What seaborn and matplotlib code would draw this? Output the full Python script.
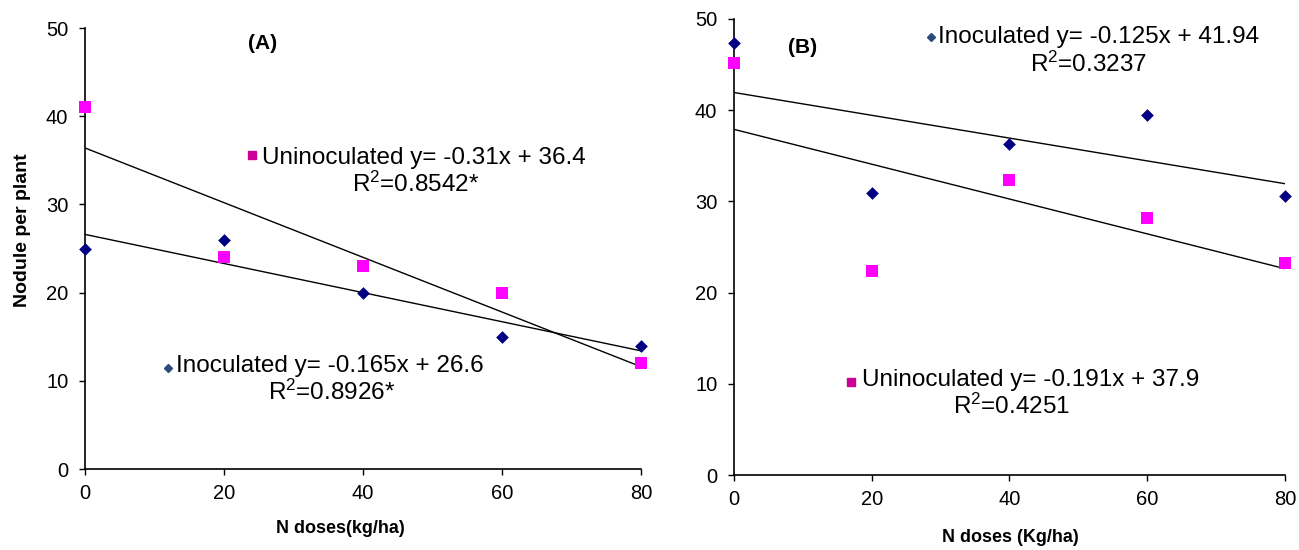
import numpy as np
import pandas as pd
import matplotlib
matplotlib.use("Agg")
import matplotlib.pyplot as plt
import seaborn as sns

# N doses (kg/ha)
doses = [0, 20, 40, 60, 80]

# Nodules per plant, panel A
a_inoculated = [25, 26, 20, 15, 14]
a_uninoculated = [41, 24, 23, 20, 12]

# Nodules per plant, panel B
b_inoculated = [47.4, 30.9, 36.3, 39.5, 30.6]
b_uninoculated = [45.2, 22.4, 32.3, 28.2, 23.2]

x_ticks = [0, 20, 40, 60, 80]
y_ticks = [0, 10, 20, 30, 40, 50]

eq_a_uninoc = "Uninoculated y= -0.31x + 36.4"
r2_a_uninoc = "R$^{2}$=0.8542*"
eq_a_inoc = "Inoculated y= -0.165x + 26.6"
r2_a_inoc = "R$^{2}$=0.8926*"
eq_b_inoc = "Inoculated y= -0.125x + 41.94"
r2_b_inoc = "R$^{2}$=0.3237"
eq_b_uninoc = "Uninoculated y= -0.191x + 37.9"
r2_b_uninoc = "R$^{2}$=0.4251"

sns.set_style("ticks")
plt.rcParams["font.family"] = ["Liberation Sans", "DejaVu Sans"]
plt.rcParams["mathtext.fontset"] = "custom"
plt.rcParams["mathtext.rm"] = "Liberation Sans"
plt.rcParams["mathtext.it"] = "Liberation Sans:italic"
plt.rcParams["mathtext.default"] = "regular"
for key_name in ["text.color", "axes.labelcolor", "xtick.color",
                 "ytick.color", "axes.edgecolor"]:
    plt.rcParams[key_name] = "black"

NAVY = "#000080"
MAGENTA = "#FF00FF"
KEY_SQUARE = "#CC0099"
KEY_DIAMOND = "#2E4A7A"

fig = plt.figure(figsize=(12.99, 5.5), dpi=100)
ax_a = fig.add_axes([0.06543, 0.14727, 0.428, 0.8018])
ax_b = fig.add_axes([0.56505, 0.13636, 0.42417, 0.8291])


def draw_panel(ax, inoc, uninoc):
    df = pd.DataFrame({"dose": doses, "inoc": inoc, "uninoc": uninoc})
    for col in ["inoc", "uninoc"]:
        sns.regplot(data=df, x="dose", y=col, ax=ax, scatter=False, ci=None,
                    color="black", line_kws={"linewidth": 1.0})
    sns.scatterplot(data=df, x="dose", y="inoc", ax=ax, marker="D", s=42,
                    color=NAVY, linewidth=0, clip_on=False, zorder=5)
    sns.scatterplot(data=df, x="dose", y="uninoc", ax=ax, marker="s", s=84,
                    color=MAGENTA, linewidth=0, clip_on=False, zorder=5)
    ax.set_xlim(0, 80)
    ax.set_ylim(0, 50)
    ax.set_xticks(x_ticks)
    ax.set_yticks(y_ticks)
    ax.tick_params(axis="both", labelsize=14.5, length=4, width=1.0,
                   direction="out", color="black", labelcolor="black")
    ax.tick_params(axis="y", pad=8)
    ax.tick_params(axis="x", pad=7)
    for side in ["top", "right"]:
        ax.spines[side].set_visible(False)
    for side in ["left", "bottom"]:
        ax.spines[side].set_linewidth(1.2)
        ax.spines[side].set_color("black")
    ax.set_ylabel("")


def key(ax, mx, my, marker, color, ms, tx, ty, eq, r2x, r2y, r2):
    ax.plot([mx], [my], marker=marker, color=color, markersize=ms,
            linestyle="none", clip_on=False)
    ax.text(tx, ty, eq, fontsize=17.5, va="baseline", ha="left",
            color="black")
    ax.text(r2x, r2y, r2, fontsize=17.5, va="baseline", ha="left",
            color="black")


# Panel A
draw_panel(ax_a, a_inoculated, a_uninoculated)
ax_a.text(25.6, 48.2, "(A)", fontsize=15, fontweight="bold",
          ha="center", va="center")
key(ax_a, 24.0, 35.6, "s", KEY_SQUARE, 6, 25.4, 34.55, eq_a_uninoc,
    38.4, 31.4, r2_a_uninoc)
key(ax_a, 11.9, 11.5, "D", KEY_DIAMOND, 4.2, 13.1, 11.03, eq_a_inoc,
    26.3, 7.82, r2_a_inoc)
ax_a.set_xlabel("N doses(kg/ha)", fontsize=13, fontweight="bold", va="center")
ax_a.xaxis.set_label_coords(0.4586, -0.134)
ax_a.set_ylabel("Nodule per plant", fontsize=14, fontweight="bold",
                va="center")
ax_a.yaxis.set_label_coords(-0.113, 0.542)

# Panel B
draw_panel(ax_b, b_inoculated, b_uninoculated)
ax_b.text(10.0, 46.9, "(B)", fontsize=15, fontweight="bold",
          ha="center", va="center")
key(ax_b, 28.6, 48.06, "D", KEY_DIAMOND, 4.2, 29.66, 47.4, eq_b_inoc,
    43.0, 44.2, r2_b_inoc)
key(ax_b, 17.0, 10.2, "s", KEY_SQUARE, 6, 18.6, 9.76, eq_b_uninoc,
    31.75, 6.7, r2_b_uninoc)
ax_b.set_xlabel("N doses (Kg/ha)", fontsize=13, fontweight="bold", va="center")
ax_b.xaxis.set_label_coords(0.501, -0.138)

fig.savefig("out.png", dpi=100)
